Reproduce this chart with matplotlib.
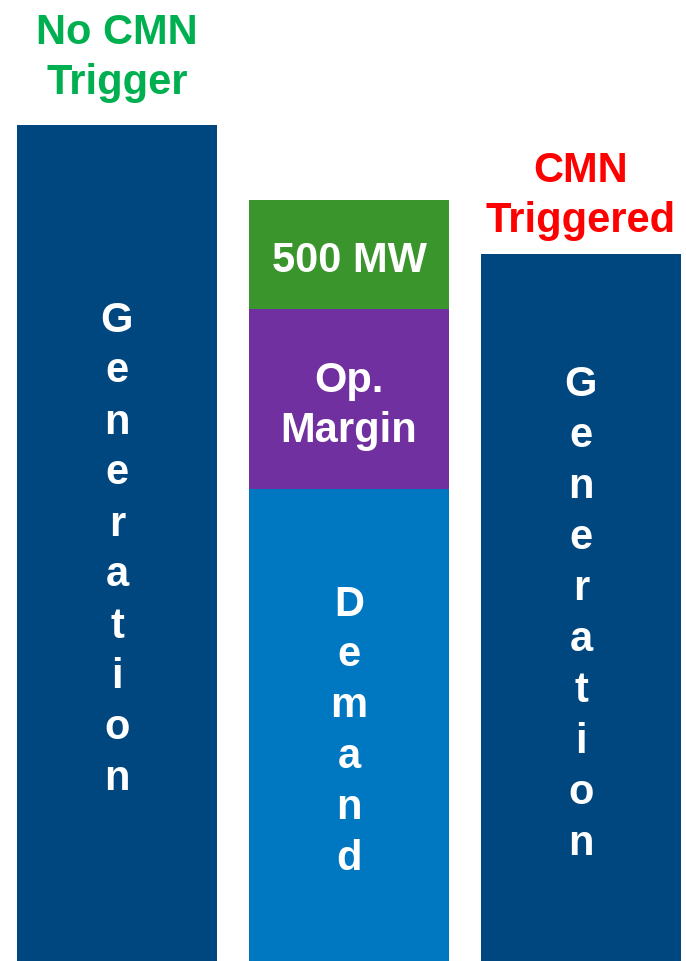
import matplotlib.pyplot as plt

# heights in pixel-ish units
gen_no_trigger = 836
gen_triggered = 707
demand = 472
op_margin = 180
reserve_500 = 109

bar_labels = ["No CMN\nTrigger", "", "CMN\nTriggered"]
label_colors = ["#00B050", "none", "#FF0000"]

dark_blue = "#00467F"
demand_blue = "#0078C1"
purple = "#7030A0"
green = "#3A952C"

plt.rcParams['font.family'] = ['Liberation Sans', 'DejaVu Sans']

fig = plt.figure(figsize=(6.86, 9.62), dpi=100)
ax = fig.add_axes([0, 0, 1, 1])
ax.set_xlim(-117 / 232, (686 - 117) / 232)
ax.set_ylim(0, 962)
ax.axis('off')

w = 200 / 232
ax.bar(0, gen_no_trigger, width=w, color=dark_blue)
ax.bar(1, demand, width=w, color=demand_blue)
ax.bar(1, op_margin, width=w, bottom=demand, color=purple)
ax.bar(1, reserve_500, width=w, bottom=demand + op_margin, color=green)
ax.bar(2, gen_triggered, width=w, color=dark_blue)

fs = 30
step = 51


def vertical(x, word, center):
    n = len(word)
    for i, ch in enumerate(word):
        y = center + (n - 1) / 2 * step - i * step
        ax.text(x, y - 17, ch, ha='center', va='baseline', color='white',
                fontsize=fs, fontweight='bold')


vertical(0, "Generation", gen_no_trigger / 2)
vertical(1, "Demand", demand / 2)
vertical(2, "Generation", gen_triggered / 2)

ax.text(1, demand + op_margin / 2 - 6, "Op.\nMargin", ha='center', va='center',
        color='white', fontsize=fs, fontweight='bold', linespacing=1.3)
ax.text(1, demand + op_margin + reserve_500 / 2 - 6, "500 MW", ha='center',
        va='center', color='white', fontsize=fs, fontweight='bold')

tops = [gen_no_trigger, 0, gen_triggered]
gaps = [23, 16, 14]
for i, (lab, c) in enumerate(zip(bar_labels, label_colors)):
    if lab:
        ax.text(i, tops[i] + gaps[i], lab, ha='center', va='bottom', color=c,
                fontsize=fs, fontweight='bold', linespacing=1.33)

fig.savefig("out.png", dpi=100)
